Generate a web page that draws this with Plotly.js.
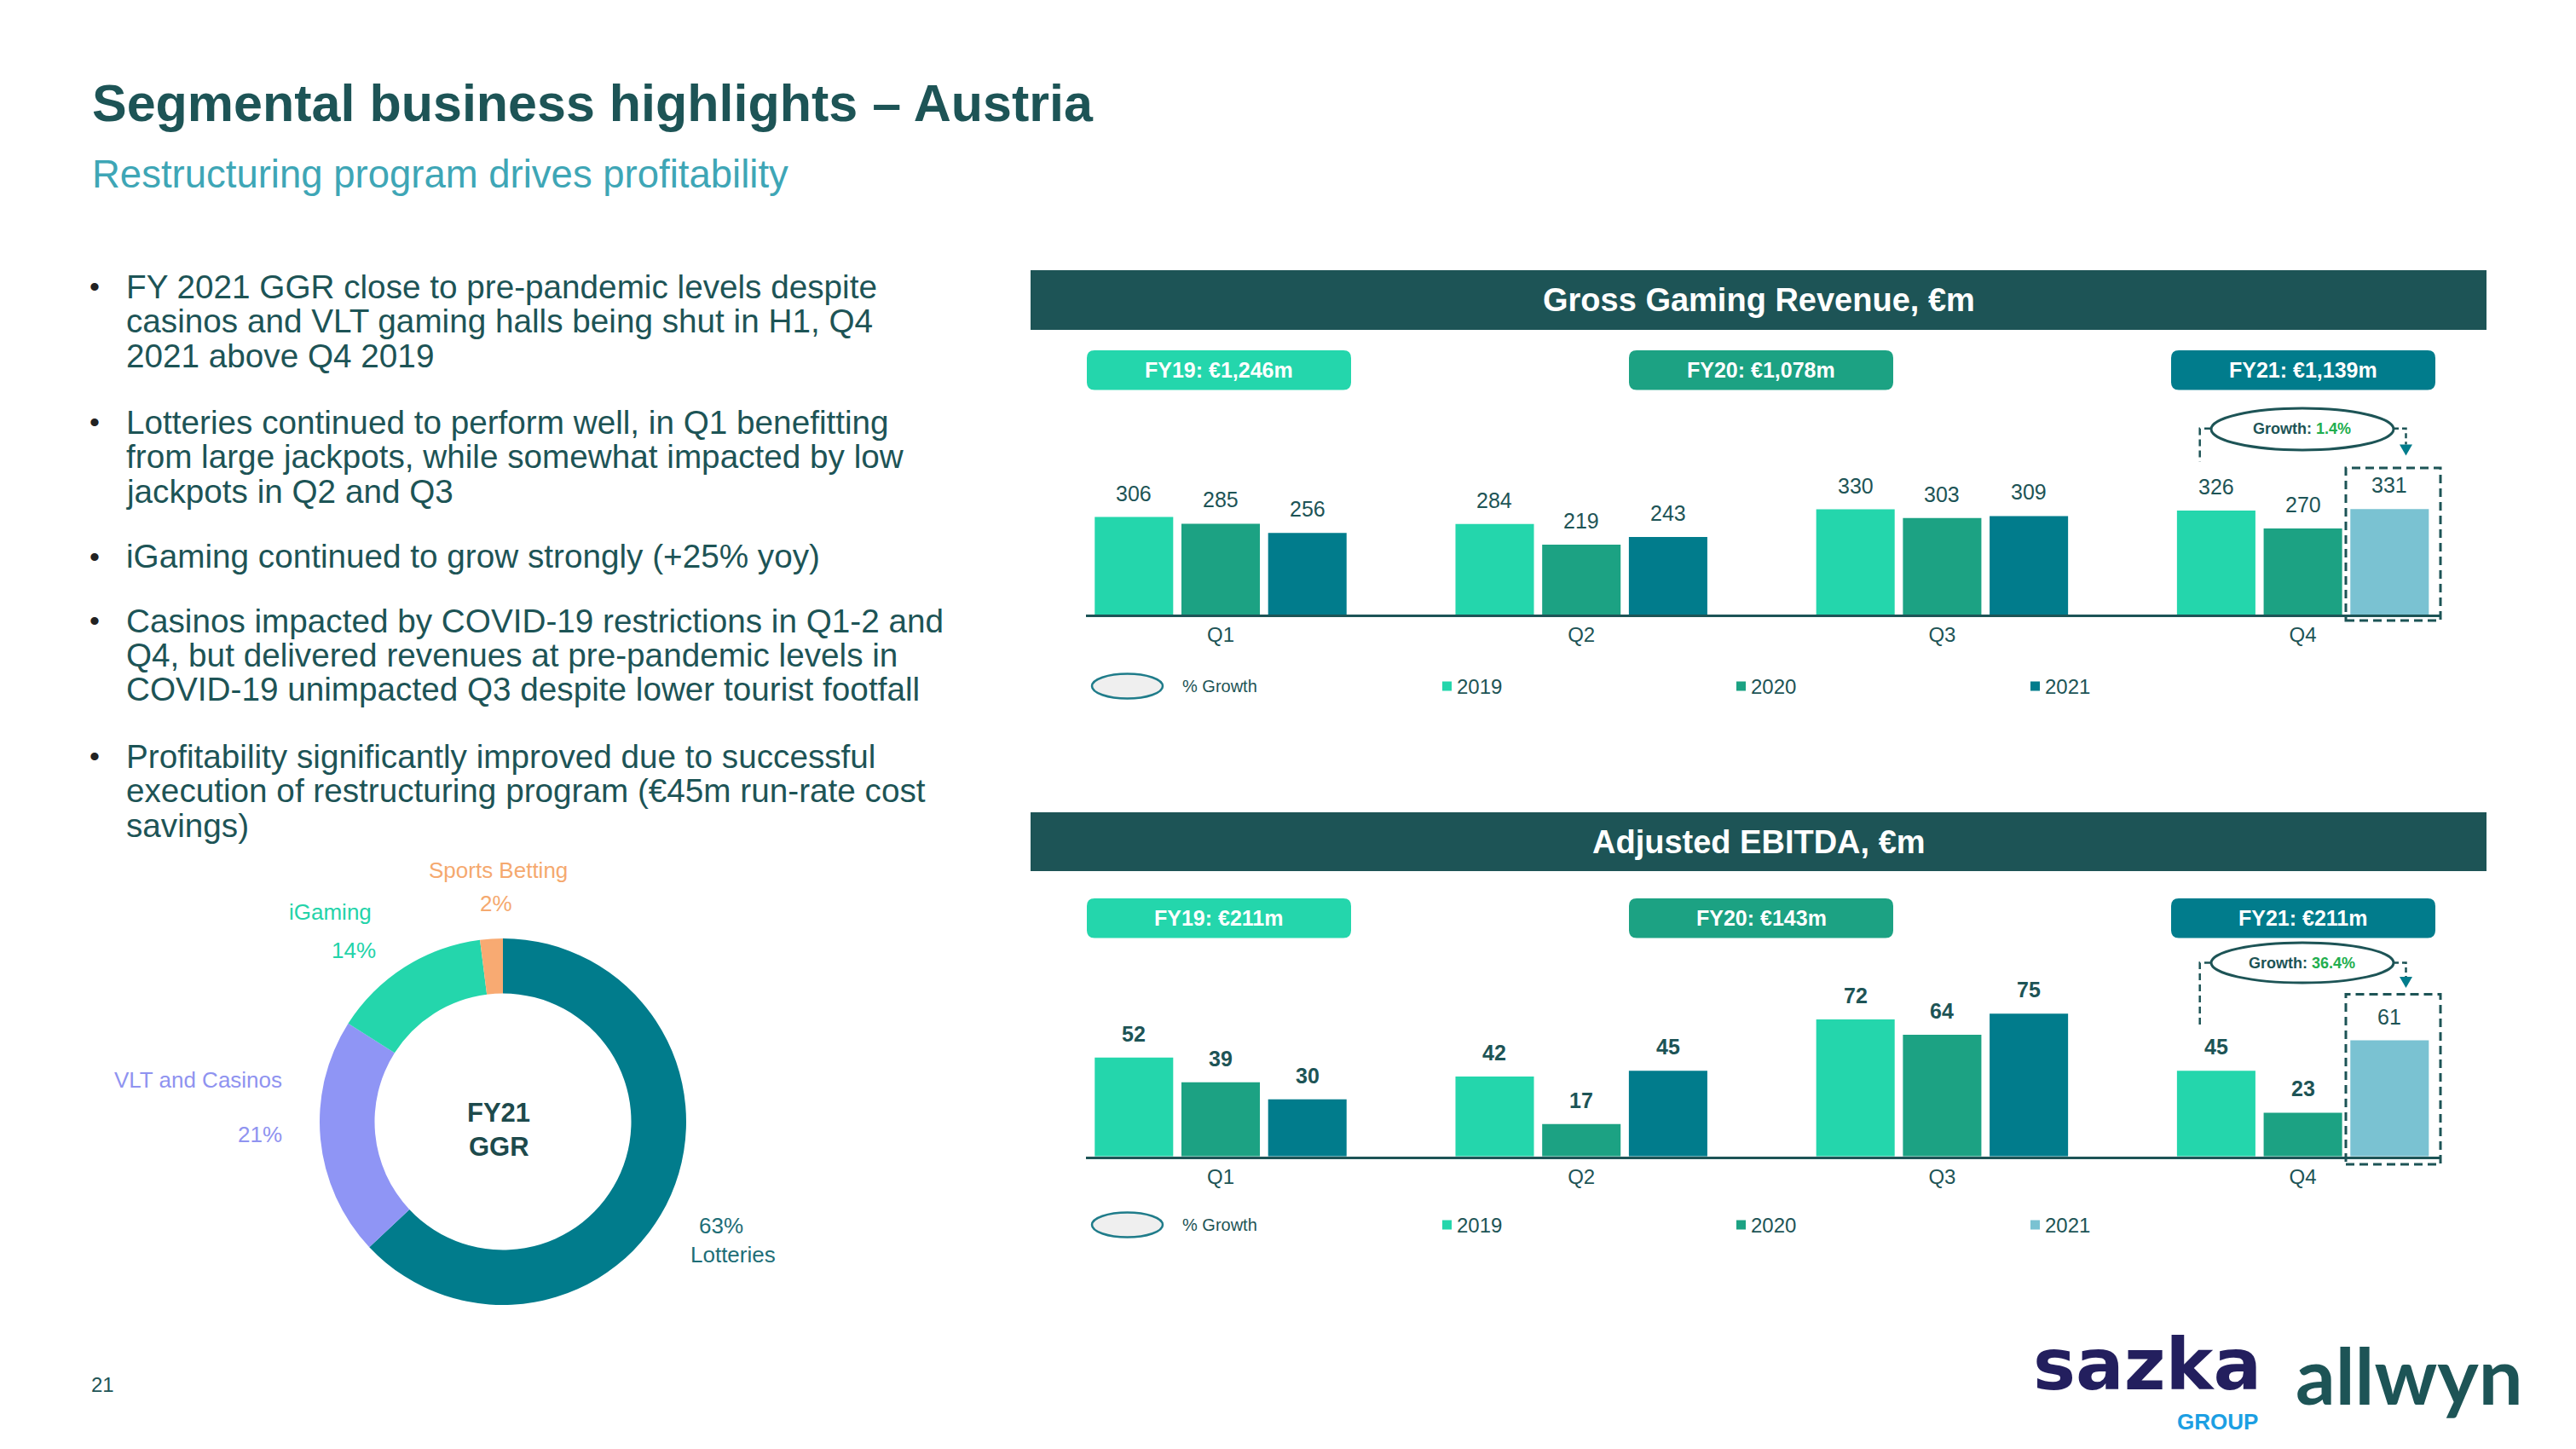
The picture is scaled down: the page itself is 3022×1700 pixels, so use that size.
<!DOCTYPE html>
<html>
<head>
<meta charset="utf-8">
<script src="https://cdn.plot.ly/plotly-3.0.1.min.js"></script>
<style>html,body{margin:0;padding:0;background:#ffffff;}</style>
</head>
<body>
<div id="chart" style="width:3022px;height:1700px;"></div>
<script>
// ---------------- DATA ----------------
const quarters = ['Q1', 'Q2', 'Q3', 'Q4'];
const years = ['2019', '2020', '2021'];
const ggr2019 = [306, 284, 330, 326];
const ggr2020 = [285, 219, 303, 270];
const ggr2021 = [256, 243, 309, 331];
const ebitda2019 = [52, 42, 72, 45];
const ebitda2020 = [39, 17, 64, 23];
const ebitda2021 = [30, 45, 75, 61];
const ggrTotals = ['FY19: €1,246m', 'FY20: €1,078m', 'FY21: €1,139m'];
const ebitdaTotals = ['FY19: €211m', 'FY20: €143m', 'FY21: €211m'];
const ggrGrowth = '1.4%';
const ebitdaGrowth = '36.4%';
const mixLabels = ['Lotteries', 'VLT and Casinos', 'iGaming', 'Sports Betting'];
const mixShares = [63, 21, 14, 2];
const slideTitle = 'Segmental business highlights – Austria';
const slideSubtitle = 'Restructuring program drives profitability';
const ggrHeader = 'Gross Gaming Revenue, €m';
const ebitdaHeader = 'Adjusted EBITDA, €m';
const growthLegend = '% Growth';
const bullets = [
  ['FY 2021 GGR close to pre-pandemic levels despite',
   'casinos and VLT gaming halls being shut in H1, Q4',
   '2021 above Q4 2019'],
  ['Lotteries continued to perform well, in Q1 benefitting',
   'from large jackpots, while somewhat impacted by low',
   'jackpots in Q2 and Q3'],
  ['iGaming continued to grow strongly (+25% yoy)'],
  ['Casinos impacted by COVID-19 restrictions in Q1-2 and',
   'Q4, but delivered revenues at pre-pandemic levels in',
   'COVID-19 unimpacted Q3 despite lower tourist footfall'],
  ['Profitability significantly improved due to successful',
   'execution of restructuring program (€45m run-rate cost',
   'savings)']
];
const pageNumber = '21';

// ---------------- STYLE / GEOMETRY ----------------
const W = 3022, H = 1700;
const X = p => p / W;
const Y = p => 1 - p / H;
const FONT = '"Liberation Sans", Arial, sans-serif';
const DARK = '#1D5456';
const C19 = '#24D6AC', C20 = '#1CA283', C21 = '#017C8C', C21HL = '#7AC2D2';
const GREEN_TXT = '#22AE4E';

const axL = 1274, axR = 2862, q1Px = 1432, stepPx = 423.2;
const bargap = 0.279, bargroupgap = 0.095;
const slotPx = stepPx * (1 - bargap) / 3;
const xRange = [-(q1Px - axL) / stepPx, (axR - q1Px) / stepPx];

const shapes = [];
const ann = [];

function rect(x0, y0, x1, y1, fill, layer) {
  shapes.push({type: 'rect', xref: 'paper', yref: 'paper', x0: X(x0), x1: X(x1), y0: Y(y1), y1: Y(y0),
    fillcolor: fill, line: {width: 0}, layer: layer || 'above'});
}
function rrect(x0, y0, x1, y1, r, fill) {
  const p = (x, y) => X(x).toFixed(6) + ',' + Y(y).toFixed(6);
  const d = 'M' + p(x0 + r, y0) + ' L' + p(x1 - r, y0) + ' Q' + p(x1, y0) + ' ' + p(x1, y0 + r) +
    ' L' + p(x1, y1 - r) + ' Q' + p(x1, y1) + ' ' + p(x1 - r, y1) +
    ' L' + p(x0 + r, y1) + ' Q' + p(x0, y1) + ' ' + p(x0, y1 - r) +
    ' L' + p(x0, y0 + r) + ' Q' + p(x0, y0) + ' ' + p(x0 + r, y0) + ' Z';
  shapes.push({type: 'path', xref: 'paper', yref: 'paper', path: d, fillcolor: fill, line: {width: 0}});
}
function ellipse(x0, y0, x1, y1, fill, lineColor, lw) {
  shapes.push({type: 'circle', xref: 'paper', yref: 'paper', x0: X(x0), x1: X(x1), y0: Y(y1), y1: Y(y0),
    fillcolor: fill, line: {color: lineColor, width: lw}});
}
function polyline(pts, color, width, dash, fill) {
  const d = pts.map((pt, i) => (i ? 'L' : 'M') + X(pt[0]).toFixed(6) + ',' + Y(pt[1]).toFixed(6)).join(' ') + (fill ? ' Z' : '');
  const s = {type: 'path', xref: 'paper', yref: 'paper', path: d, line: {color: color, width: width, dash: dash || 'solid'}};
  if (fill) { s.fillcolor = fill; s.line = {width: 0}; }
  shapes.push(s);
}
function txt(x, y, text, size, color, opts) {
  ann.push(Object.assign({xref: 'paper', yref: 'paper', x: X(x), y: Y(y), text: text, showarrow: false,
    font: {family: FONT, size: size, color: color}, xanchor: 'center', yanchor: 'middle'}, opts || {}));
}

// ---------------- TRACES ----------------
function barTraces(vals, xa, ya) {
  return vals.map((v, t) => ({
    type: 'bar', x: quarters, y: v, name: years[t], xaxis: xa, yaxis: ya,
    marker: {color: quarters.map((q, i) => (t === 2 && i === 3) ? C21HL : [C19, C20, C21][t]), line: {width: 0}},
    hoverinfo: 'x+y+name', showlegend: false
  }));
}
const ggrVals = [ggr2019, ggr2020, ggr2021];
const ebVals = [ebitda2019, ebitda2020, ebitda2021];
const traces = [].concat(barTraces(ggrVals, 'x', 'y'), barTraces(ebVals, 'x2', 'y2'));

traces.push({
  type: 'pie', labels: mixLabels, values: mixShares, hole: 0.70, sort: false, direction: 'clockwise',
  rotation: 0, textinfo: 'none', showlegend: false,
  marker: {colors: ['#017C8C', '#8F95F5', '#24D6AC', '#F8AA72'], line: {width: 0}},
  domain: {x: [X(375), X(805)], y: [Y(1531), Y(1101)]}
});

// value labels above bars (through the axes)
function valueLabels(vals, xref, yref, boldFn) {
  vals.forEach((v, t) => v.forEach((val, i) => {
    ann.push({xref: xref, yref: yref, x: quarters[i], y: val, text: String(val), showarrow: false,
      xshift: (t - 1) * slotPx, yshift: 28, xanchor: 'center', yanchor: 'middle',
      font: {family: FONT, size: 25, color: DARK, weight: boldFn(t, i) ? 'bold' : 'normal'}});
  }));
}
valueLabels(ggrVals, 'x', 'y', () => false);
valueLabels(ebVals, 'x2', 'y2', (t, i) => !(t === 2 && i === 3));

// ---------------- SLIDE TEXT ----------------
txt(106, 121, '<b>' + slideTitle + '</b>', 61, DARK, {xanchor: 'left'});
txt(106, 204, slideSubtitle, 45.5, '#3EA6B6', {xanchor: 'left'});

const paraStarts = [336, 495, 653, 728, 887];
const pitch = 40.5;
bullets.forEach((lines, b) => {
  txt(111, paraStarts[b], '•', 34, '#222222');
  lines.forEach((ln, k) => txt(146, paraStarts[b] + k * pitch, ln, 38.7, DARK, {xanchor: 'left'}));
});

// donut labels
const mixColors = ['#1E6E77', '#8F93F0', '#23D3A9', '#F5A96F'];
txt(846, 1438, mixShares[0] + '%', 26, mixColors[0]);
txt(860, 1472, mixLabels[0], 26, mixColors[0]);
txt(232, 1267, mixLabels[1], 26, mixColors[1]);
txt(305, 1331, mixShares[1] + '%', 26, mixColors[1]);
txt(387, 1070, mixLabels[2], 26, mixColors[2]);
txt(415, 1115, mixShares[2] + '%', 26, mixColors[2]);
txt(584, 1021, mixLabels[3], 26, mixColors[3]);
txt(582, 1060, mixShares[3] + '%', 26, mixColors[3]);
txt(585, 1305, '<b>FY21</b>', 31, '#1D4A4C');
txt(585, 1345, '<b>GGR</b>', 31, '#1D4A4C');

txt(120, 1624, pageNumber, 24, DARK);

// logos (as text)
txt(2519, 1601, '<b>sazka</b>', 84, '#231F5E', {font: {family: '"DejaVu Sans", sans-serif', size: 84, color: '#231F5E'}});
txt(2601, 1668, '<b>GROUP</b>', 26, '#1C9FE3');
txt(2826, 1612, '<b>allwyn</b>', 92, DARK, {font: {family: 'Lato, "Noto Sans", sans-serif', size: 92, color: DARK, weight: 900}});

// ---------------- PANELS ----------------
// g = [ellipse x0, y0, x1, y1, bracket y, left bracket bottom, arrow head top]
function panel(top, hdrBottom, header, totals, pillTop, growth, g, legendY, last21Color, box) {
  rect(1209, top, 2917, hdrBottom, DARK, 'below');
  txt(2063, (top + hdrBottom) / 2, '<b>' + header + '</b>', 38, '#FFFFFF');
  const pills = [[1275, 1585, C19], [1911, 2221, C20], [2547, 2857, C21]];
  pills.forEach((pl, i) => {
    rrect(pl[0], pillTop, pl[1], pillTop + 46.5, 9, pl[2]);
    txt((pl[0] + pl[1]) / 2, pillTop + 23, '<b>' + totals[i] + '</b>', 25, '#FFFFFF');
  });
  // growth callout
  const gy = (g[1] + g[3]) / 2;
  polyline([[g[0], g[4]], [2580.7, g[4]], [2580.7, g[5]]], DARK, 2.5, '8px,5px');
  polyline([[g[2], g[4]], [2822.5, g[4]], [2822.5, g[6]]], DARK, 2.5, '6px,4px');
  polyline([[2815, g[6]], [2830, g[6]], [2822.5, g[6] + 13]], null, 0, null, C21);
  ellipse(g[0], g[1], g[2], g[3], '#FFFFFF', DARK, 3);
  txt(2700, gy, '<b>Growth: <span style="color:' + GREEN_TXT + '">' + growth + '</span></b>', 18, DARK);
  // dashed box around latest quarter
  shapes.push({type: 'rect', xref: 'paper', yref: 'paper', x0: X(box[0]), x1: X(box[2]), y0: Y(box[3]), y1: Y(box[1]),
    line: {color: DARK, width: 3, dash: '10px,6px'}, fillcolor: 'rgba(0,0,0,0)'});
  // legend
  ellipse(1281, legendY - 14.5, 1364, legendY + 14.5, '#EFEFEF', '#1F7C8A', 2.5);
  txt(1385, legendY, growthLegend, 20, DARK, {xanchor: 'left'});
  const sq = [[1692, C19], [2037, C20], [2382, last21Color]];
  sq.forEach((s, i) => {
    rect(s[0], legendY - 5.5, s[0] + 11, legendY + 5.5, s[1]);
    txt(s[0] + 15, legendY, years[i], 24, DARK, {xanchor: 'left'});
  });
}
panel(317, 387, ggrHeader, ggrTotals, 411, ggrGrowth, [2594, 479, 2808, 528, 502.7, 541.7, 521.5], 805, C21, [2752, 549, 2863, 728]);
panel(953, 1022, ebitdaHeader, ebitdaTotals, 1054, ebitdaGrowth, [2594, 1106, 2808, 1153, 1129.4, 1207, 1146], 1437, C21HL, [2752, 1166.5, 2863, 1366]);

// ---------------- LAYOUT ----------------
const xCommon = {
  type: 'category', range: xRange, domain: [X(axL), X(axR)], showline: true, linecolor: DARK, linewidth: 3,
  ticks: '', showgrid: false, zeroline: false, fixedrange: true,
  tickfont: {family: FONT, size: 24, color: DARK}
};
const layout = {
  width: W, height: H, margin: {l: 0, r: 0, t: 0, b: 0}, paper_bgcolor: '#FFFFFF', plot_bgcolor: 'rgba(0,0,0,0)',
  showlegend: false, barmode: 'group', bargap: bargap, bargroupgap: bargroupgap,
  xaxis: Object.assign({}, xCommon, {anchor: 'y'}),
  yaxis: {domain: [Y(721), Y(560)], range: [0, 430.5], visible: false, anchor: 'x', fixedrange: true},
  xaxis2: Object.assign({}, xCommon, {anchor: 'y2'}),
  yaxis2: {domain: [Y(1356.7), Y(1180)], range: [0, 79.2], visible: false, anchor: 'x2', fixedrange: true},
  shapes: shapes, annotations: ann,
  font: {family: FONT, color: DARK}
};
Plotly.newPlot('chart', traces, layout, {staticPlot: true, displayModeBar: false});
</script>
</body>
</html>
